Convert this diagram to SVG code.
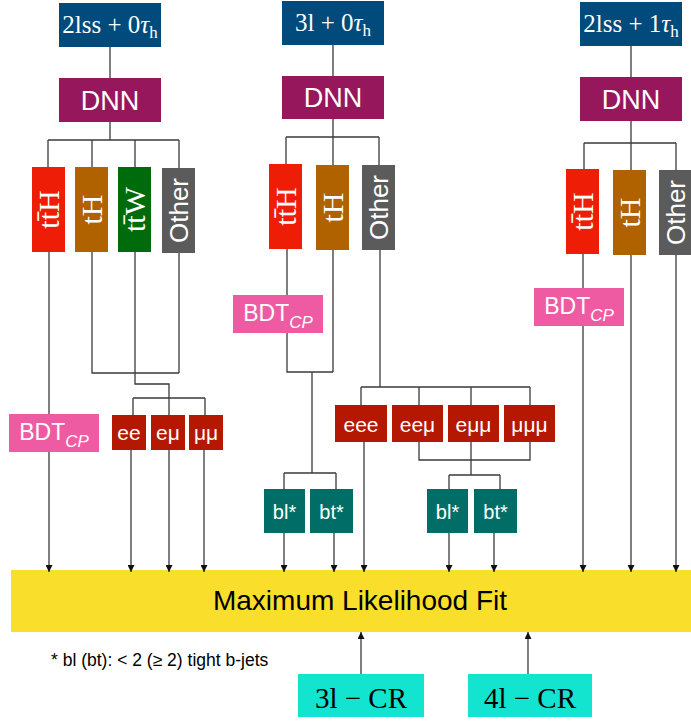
<svg xmlns="http://www.w3.org/2000/svg" width="691" height="722" viewBox="0 0 691 722">
<defs>
<style>
.ln{stroke:#3a3a3a;stroke-width:1.3;fill:none}
.ar{marker-end:url(#ah)}
.w{fill:#fff}
.sf{font-family:"Liberation Serif","Times New Roman",serif}
.ss{font-family:"Liberation Sans",Arial,sans-serif}
.top{fill:#004a7c}
.dnn{fill:#96175c}
.tth{fill:#ee1e06}
.th{fill:#b06200}
.ttw{fill:#006b0b}
.oth{fill:#5b5b5b}
.bdt{fill:#ef5ba3}
.lep{fill:#b41800}
.bj{fill:#006e66}
.fit{fill:#f9df2c}
.cr{fill:#12e4d0}
.tt{font-size:25px;text-anchor:middle}
.dn{font-size:27px;text-anchor:middle}
.vs{font-size:30px;text-anchor:middle}
.vo{font-size:26px;text-anchor:middle}
.bd{font-size:23px;text-anchor:middle}
.lp{font-size:21px;text-anchor:middle}
.bt{font-size:20px;text-anchor:middle}
</style>
<marker id="ah" markerWidth="7" markerHeight="7" refX="7" refY="3.5" orient="auto" markerUnits="userSpaceOnUse"><path d="M0,0 L7,3.5 L0,7 z" fill="#111"/></marker>
</defs>

<!-- left column -->
<g id="top-2lss0t">
<rect class="top" x="59" y="3" width="102" height="44"/>
<text class="sf tt w" x="110" y="33">2lss + 0<tspan font-style="italic">τ</tspan><tspan font-size="17" dy="5">h</tspan></text>
</g>
<g id="dnn-a">
<rect class="dnn" x="59" y="78" width="102" height="44"/>
<text class="ss dn w" x="110" y="110">DNN</text>
</g>
<g id="a-tth">
<rect class="tth" x="32" y="167" width="33" height="85"/>
<text class="sf vs w" transform="translate(48.5,209.5) rotate(-90)" x="0" y="10">tt̄H</text>
</g>
<g id="a-th">
<rect class="th" x="75" y="167" width="33" height="85"/>
<text class="sf vs w" transform="translate(91.5,209.5) rotate(-90)" x="0" y="10">tH</text>
</g>
<g id="a-ttw">
<rect class="ttw" x="118" y="167" width="33" height="85"/>
<text class="sf vs w" transform="translate(134.5,209.5) rotate(-90)" x="0" y="10">tt̄W</text>
</g>
<g id="a-other">
<rect class="oth" x="162" y="168" width="33" height="85"/>
<text class="ss vo w" transform="translate(178.5,210.5) rotate(-90)" x="0" y="9.3">Other</text>
</g>
<g id="a-bdt">
<rect class="bdt" x="9" y="414" width="90" height="38"/>
<text class="ss bd w" x="54" y="440">BDT<tspan font-size="17" font-style="italic" dy="7">CP</tspan></text>
</g>
<g id="a-ee">
<rect class="lep" x="112" y="415" width="34" height="35"/>
<text class="ss lp w" x="129" y="440">ee</text>
</g>
<g id="a-em">
<rect class="lep" x="151" y="415" width="34" height="35"/>
<text class="ss lp w" x="168" y="440">eμ</text>
</g>
<g id="a-mm">
<rect class="lep" x="189" y="415" width="34" height="35"/>
<text class="ss lp w" x="206" y="440">μμ</text>
</g>

<!-- middle column -->
<g id="top-3l0t">
<rect class="top" x="282" y="1" width="102" height="44"/>
<text class="sf tt w" x="333" y="31">3l + 0<tspan font-style="italic">τ</tspan><tspan font-size="17" dy="5">h</tspan></text>
</g>
<g id="dnn-b">
<rect class="dnn" x="282" y="76" width="102" height="43"/>
<text class="ss dn w" x="333" y="107">DNN</text>
</g>
<g id="b-tth">
<rect class="tth" x="269" y="164" width="33" height="85"/>
<text class="sf vs w" transform="translate(285.5,206.5) rotate(-90)" x="0" y="10">tt̄H</text>
</g>
<g id="b-th">
<rect class="th" x="316" y="165" width="33" height="85"/>
<text class="sf vs w" transform="translate(332.5,207.5) rotate(-90)" x="0" y="10">tH</text>
</g>
<g id="b-other">
<rect class="oth" x="362" y="165" width="33" height="85"/>
<text class="ss vo w" transform="translate(378.5,207.5) rotate(-90)" x="0" y="9.3">Other</text>
</g>
<g id="b-bdt">
<rect class="bdt" x="233" y="295" width="90" height="38"/>
<text class="ss bd w" x="278" y="321">BDT<tspan font-size="17" font-style="italic" dy="7">CP</tspan></text>
</g>
<g id="b-bl">
<rect class="bj" x="264" y="489" width="41" height="44"/>
<text class="ss bt w" x="284.5" y="519">bl*</text>
</g>
<g id="b-bt">
<rect class="bj" x="310" y="489" width="43" height="44"/>
<text class="ss bt w" x="331.5" y="519">bt*</text>
</g>
<g id="b-eee">
<rect class="lep" x="335" y="405" width="52" height="37"/>
<text class="ss lp w" x="361" y="432">eee</text>
</g>
<g id="b-eem">
<rect class="lep" x="392" y="405" width="51" height="37"/>
<text class="ss lp w" x="417.5" y="432">eeμ</text>
</g>
<g id="b-emm">
<rect class="lep" x="448" y="405" width="51" height="37"/>
<text class="ss lp w" x="473.5" y="432">eμμ</text>
</g>
<g id="b-mmm">
<rect class="lep" x="504" y="405" width="51" height="37"/>
<text class="ss lp w" x="529.5" y="432">μμμ</text>
</g>
<g id="b-bl2">
<rect class="bj" x="427" y="489" width="41" height="44"/>
<text class="ss bt w" x="447.5" y="519">bl*</text>
</g>
<g id="b-bt2">
<rect class="bj" x="474" y="489" width="43" height="44"/>
<text class="ss bt w" x="495.5" y="519">bt*</text>
</g>

<!-- right column -->
<g id="top-2lss1t">
<rect class="top" x="580" y="2" width="102" height="44"/>
<text class="sf tt w" x="631" y="32">2lss + 1<tspan font-style="italic">τ</tspan><tspan font-size="17" dy="5">h</tspan></text>
</g>
<g id="dnn-c">
<rect class="dnn" x="580" y="77" width="102" height="44"/>
<text class="ss dn w" x="631" y="109">DNN</text>
</g>
<g id="c-tth">
<rect class="tth" x="566" y="169" width="33" height="85"/>
<text class="sf vs w" transform="translate(582.5,211.5) rotate(-90)" x="0" y="10">tt̄H</text>
</g>
<g id="c-th">
<rect class="th" x="613" y="170" width="33" height="85"/>
<text class="sf vs w" transform="translate(629.5,212.5) rotate(-90)" x="0" y="10">tH</text>
</g>
<g id="c-other">
<rect class="oth" x="659" y="170" width="33" height="85"/>
<text class="ss vo w" transform="translate(675.5,212.5) rotate(-90)" x="0" y="9.3">Other</text>
</g>
<g id="c-bdt">
<rect class="bdt" x="534" y="288" width="90" height="38"/>
<text class="ss bd w" x="579" y="314">BDT<tspan font-size="17" font-style="italic" dy="7">CP</tspan></text>
</g>

<!-- fit and control regions -->
<g id="fit">
<rect class="fit" x="11" y="570" width="680" height="62"/>
<text class="ss" x="360" y="610" font-size="28" text-anchor="middle" fill="#000">Maximum Likelihood Fit</text>
</g>
<g id="cr-3l">
<rect class="cr" x="298" y="674" width="126" height="43"/>
<text class="sf" x="361" y="708" font-size="29" text-anchor="middle" fill="#000">3l − CR</text>
</g>
<g id="cr-4l">
<rect class="cr" x="468" y="674" width="124" height="43"/>
<text class="sf" x="530" y="708" font-size="29" text-anchor="middle" fill="#000">4l − CR</text>
</g>
<text id="footnote" class="ss" x="51" y="666" font-size="17.5" fill="#000">* bl (bt): &lt; 2 (≥ 2) tight b-jets</text>

<g id="connectors">
<!-- left -->
<path class="ln" d="M110,47 V78 M110,122 V140 M48,140 H179 M48,140 V167 M92,140 V167 M135,140 V167 M179,140 V168"/>
<path class="ln" d="M49,252 V414"/>
<path class="ln" d="M92,252 V373 H179 M179,253 V373"/>
<path class="ln" d="M135,252 V384 H169 V398 M133,398 H205 M133,398 V415 M169,398 V415 M205,398 V415"/>
<path class="ln ar" d="M49,452 V572"/>
<path class="ln ar" d="M131,450 V572"/>
<path class="ln ar" d="M169,450 V572"/>
<path class="ln ar" d="M204,450 V572"/>
<!-- middle -->
<path class="ln" d="M333,45 V76 M333,119 V137 M286,137 H379 M286,137 V164 M333,137 V165 M379,137 V165"/>
<path class="ln" d="M287,249 V295 M287,333 V372 H333 M333,250 V372 M312,372 V473 M284,473 H336 M284,473 V489 M336,473 V489"/>
<path class="ln" d="M380,250 V387 M361,387 H530 M361,387 V405 M419,387 V405 M471,387 V405 M530,387 V405"/>
<path class="ln" d="M419,442 V460 H530 V442 M471,442 V475 M449,475 H500 M449,475 V489 M500,475 V489"/>
<path class="ln ar" d="M284,533 V572"/>
<path class="ln ar" d="M334,533 V572"/>
<path class="ln ar" d="M364,442 V572"/>
<path class="ln ar" d="M449,533 V572"/>
<path class="ln ar" d="M494,533 V572"/>
<!-- right -->
<path class="ln" d="M631,46 V77 M631,121 V143 M584,143 H676 M584,143 V169 M631,143 V170 M676,143 V170 M583,254 V288"/>
<path class="ln ar" d="M583,326 V572"/>
<path class="ln ar" d="M631,255 V572"/>
<path class="ln ar" d="M676,255 V572"/>
<!-- control regions -->
<path class="ln ar" d="M361,674 V632"/>
<path class="ln ar" d="M528,674 V632"/>
</g>
</svg>
